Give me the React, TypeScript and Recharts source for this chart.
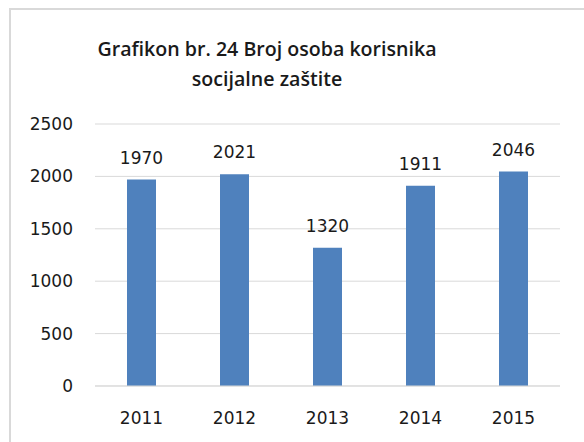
import React from 'react';
import { BarChart, Bar, XAxis, YAxis, CartesianGrid, LabelList } from 'recharts';

const years = ['2011', '2012', '2013', '2014', '2015'];
const counts = [1970, 2021, 1320, 1911, 2046];
const yTicks = [0, 500, 1000, 1500, 2000, 2500];
const titleLines = ['Grafikon br. 24 Broj osoba korisnika', 'socijalne zaštite'];

const data = years.map((year, i) => ({ year, count: counts[i] }));

const numFont = { fill: '#1a1a1a', fontSize: 17, fontFamily: 'DejaVu Sans' };

export default function App() {
  return (
    <div style={{ position: 'absolute', left: 0, top: 0, width: 584, height: 442, background: '#fff', overflow: 'hidden' }}>
      <div
        style={{
          position: 'absolute',
          left: 9,
          top: 8,
          width: 600,
          height: 460,
          border: '2px solid #d9d9d9',
        }}
      />
      <div
        style={{
          position: 'absolute',
          left: 67,
          width: 400,
          top: 34,
          textAlign: 'center',
          fontFamily: 'Open Sans',
          fontWeight: 600,
          fontSize: 19.6,
          lineHeight: '30px',
          color: '#1a1a1a',
        }}
      >
        {titleLines.map((t) => (
          <div key={t}>{t}</div>
        ))}
      </div>
      <BarChart
        width={584}
        height={442}
        data={data}
        margin={{ top: 124, right: 24, left: 0, bottom: 0 }}
        style={{ position: 'absolute', left: 0, top: 0 }}
      >
        <CartesianGrid vertical={false} stroke="#d9d9d9" strokeWidth={1} />
        <XAxis
          dataKey="year"
          height={56}
          tickLine={false}
          tickSize={0}
          tickMargin={26}
          axisLine={{ stroke: '#d9d9d9' }}
          tick={numFont}
        />
        <YAxis
          width={95}
          domain={[0, 2500]}
          ticks={yTicks}
          tickLine={false}
          tickSize={0}
          tickMargin={22}
          axisLine={false}
          tick={numFont}
        />
        <Bar dataKey="count" fill="#4f81bd" barSize={29} isAnimationActive={false}>
          <LabelList dataKey="count" position="top" offset={16} style={numFont} />
        </Bar>
      </BarChart>
    </div>
  );
}
